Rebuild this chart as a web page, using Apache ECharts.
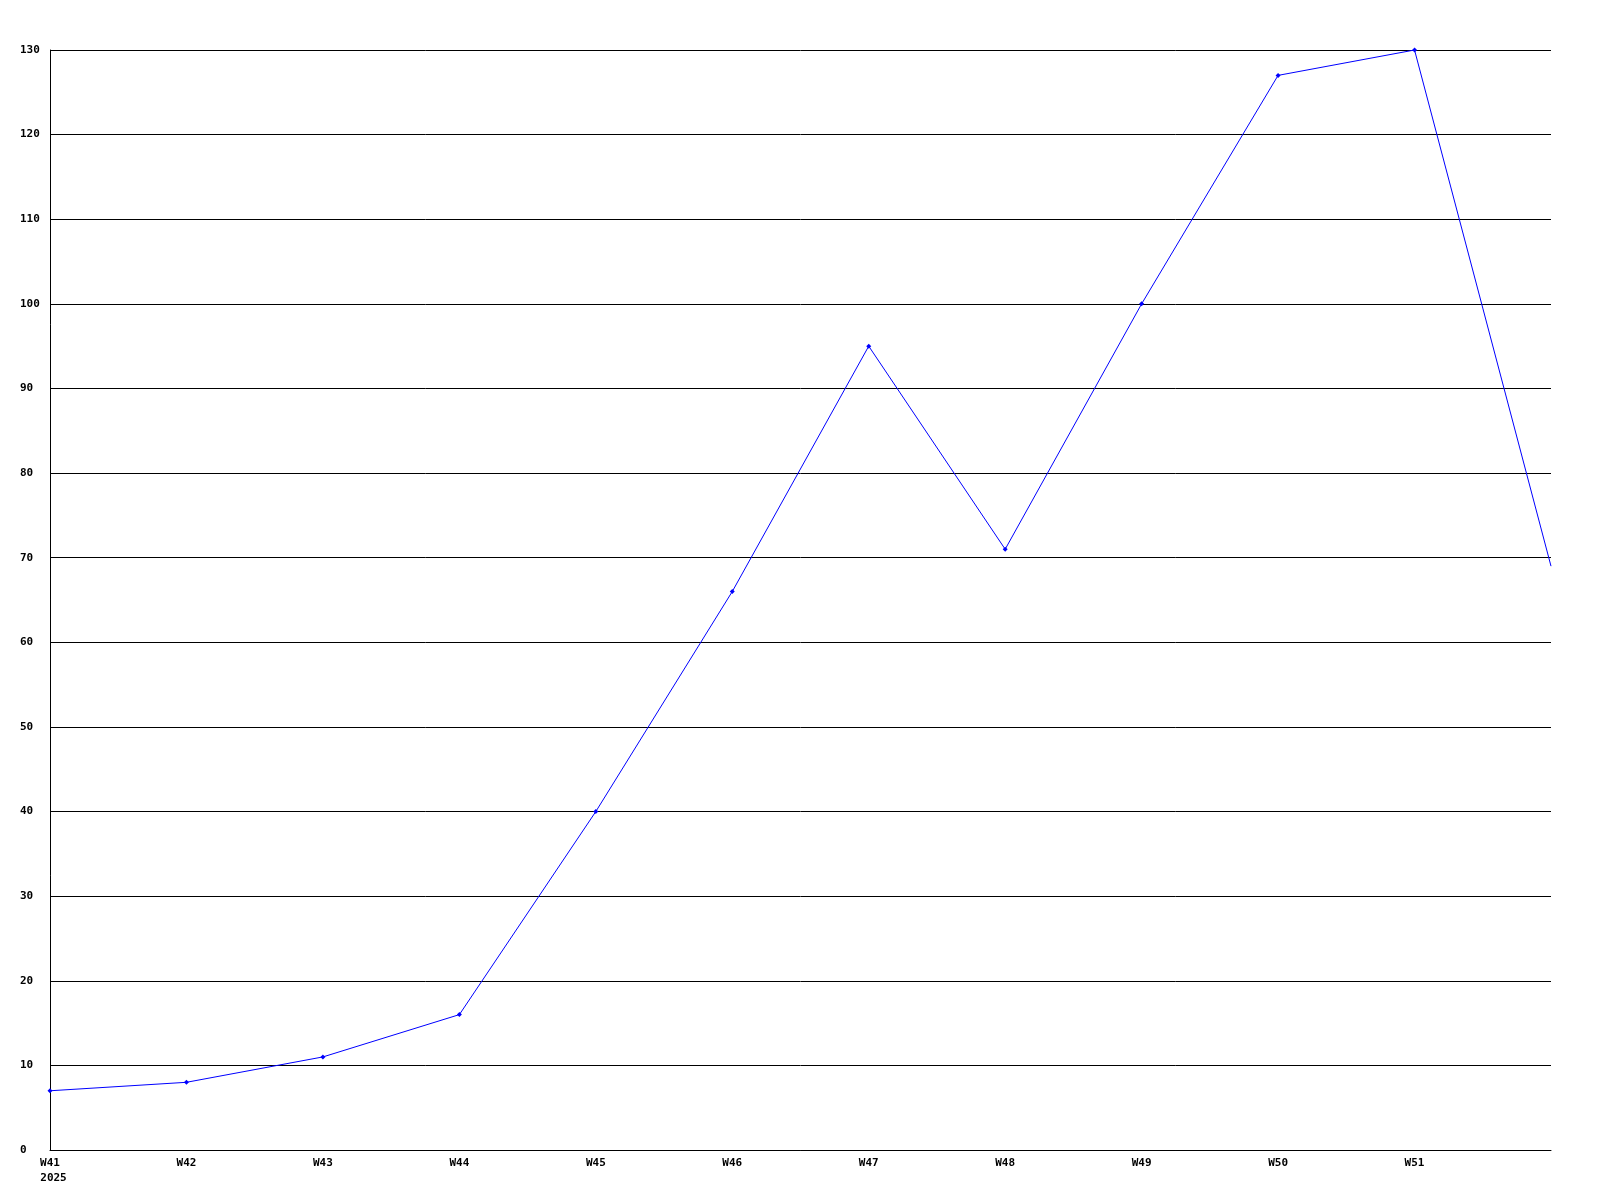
<!DOCTYPE html>
<html>
<head>
<meta charset="utf-8">
<script src="https://cdn.jsdelivr.net/npm/echarts@6/dist/echarts.min.js"></script>
<style>html,body{margin:0;padding:0;background:#fff}#c{width:1600px;height:1200px}</style>
</head>
<body>
<div id="c"></div>
<script>
const categories = ['W41','W42','W43','W44','W45','W46','W47','W48','W49','W50','W51','W52'];
const xLabels = ['W41','W42','W43','W44','W45','W46','W47','W48','W49','W50','W51',''];
const yearLabel = '2025';
const values = [7, 8, 11, 16, 40, 66, 95, 71, 100, 127, 130, 69];

const font = 'DejaVu Sans Mono';
const chart = echarts.init(document.getElementById('c'), null, {renderer: 'canvas'});
chart.setOption({
  animation: false,
  backgroundColor: '#ffffff',
  grid: {left: 50, right: 49, top: 50, bottom: 50, containLabel: false},
  xAxis: {
    type: 'category',
    data: categories,
    boundaryGap: false,
    axisLine: {show: true, lineStyle: {color: '#000', width: 1}},
    axisTick: {show: false},
    splitLine: {show: false},
    axisLabel: {
      interval: 0,
      margin: 6,
      color: '#000',
      fontFamily: font,
      fontWeight: 'bold',
      fontSize: 11,
      lineHeight: 15,
      formatter: function (v, i) {
        if (i === 0) return '{a|' + xLabels[i] + '}\n{b|' + yearLabel + '}';
        return xLabels[i];
      },
      rich: {
        a: {fontFamily: font, fontWeight: 'bold', fontSize: 11, lineHeight: 15, color: '#000'},
        b: {fontFamily: font, fontWeight: 'bold', fontSize: 11, lineHeight: 15, color: '#000', padding: [0, 0, 0, 7]}
      }
    }
  },
  yAxis: {
    type: 'value',
    min: 0,
    max: 130,
    interval: 10,
    axisLine: {show: true, lineStyle: {color: '#000', width: 1}},
    axisTick: {show: false},
    splitLine: {show: true, lineStyle: {color: '#000', width: 1}},
    axisLabel: {
      align: 'left',
      margin: 30,
      color: '#000',
      fontFamily: font,
      fontWeight: 'bold',
      fontSize: 11
    }
  },
  series: [{
    type: 'line',
    data: values,
    symbol: function (v, p) { return p.dataIndex === values.length - 1 ? 'none' : 'diamond'; },
    symbolSize: 5,
    showSymbol: true,
    lineStyle: {color: '#0000ff', width: 1},
    itemStyle: {color: '#0000ff'},
    clip: false
  }]
});
</script>
</body>
</html>
